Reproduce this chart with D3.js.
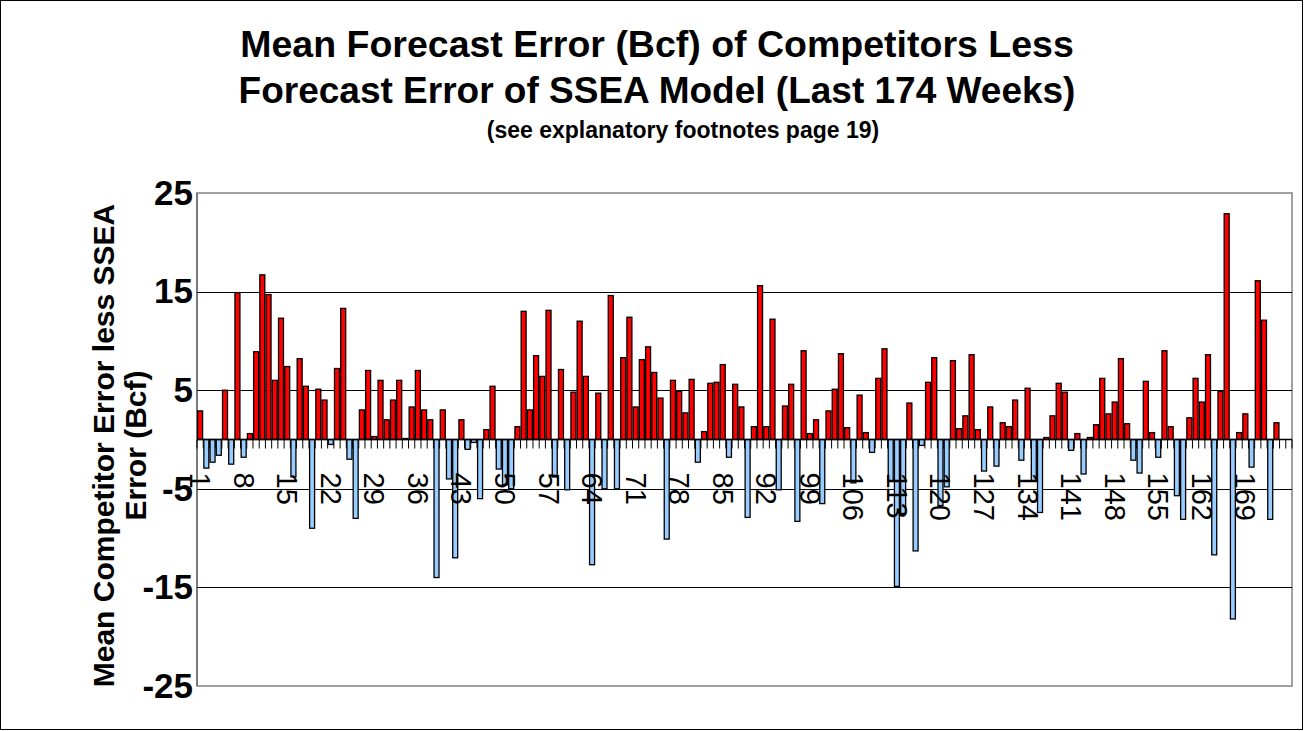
<!DOCTYPE html>
<html>
<head>
<meta charset="utf-8">
<script src="https://cdn.jsdelivr.net/npm/d3@7"></script>
<style>
  body { margin: 0; background: #fff; }
  svg { display: block; font-family: "Liberation Sans", Arial, sans-serif; }
</style>
</head>
<body>
<script>
// weekly difference, Bcf (week 1..174)
const values = [
  2.9, -2.9, -2.3, -1.6, 5.0, -2.5, 14.9, -1.8, 0.6, 8.9,
  16.7, 14.7, 6.0, 12.3, 7.4, -3.8, 8.2, 5.4, -9.0, 5.1,
  4.0, -0.5, 7.2, 13.3, -2.0, -8.0, 3.0, 7.0, 0.3, 6.0,
  2.0, 4.0, 6.0, 0.1, 3.3, 7.0, 3.0, 2.0, -14.0, 3.0,
  -4.0, -12.0, 2.0, -1.0, -0.3, -6.0, 1.0, 5.4, -3.0, -4.6,
  -5.0, 1.3, 13.0, 3.0, 8.5, 6.4, 13.1, -3.8, 7.1, -5.1,
  4.8, 12.0, 6.4, -12.7, 4.7, -5.0, 14.6, -5.0, 8.3, 12.4,
  3.3, 8.1, 9.4, 6.8, 4.2, -10.1, 6.0, 4.9, 2.7, 6.1,
  -2.3, 0.8, 5.7, 5.8, 7.6, -1.8, 5.6, 3.3, -7.9, 1.3,
  15.6, 1.3, 12.2, -5.1, 3.4, 5.6, -8.3, 9.0, 0.6, 2.0,
  -6.5, 2.9, 5.1, 8.7, 1.2, -4.4, 4.5, 0.7, -1.3, 6.2,
  9.2, -4.2, -14.9, -7.5, 3.7, -11.3, -0.6, 5.8, 8.3, -6.7,
  -4.8, 8.0, 1.1, 2.4, 8.6, 1.0, -3.2, 3.3, -2.7, 1.7,
  1.3, 4.0, -2.1, 5.2, -4.2, -7.4, 0.2, 2.4, 5.7, 4.8,
  -1.1, 0.6, -3.5, 0.2, 1.5, 6.2, 2.6, 3.8, 8.2, 1.6,
  -2.1, -3.4, 5.9, 0.7, -1.8, 9.0, 1.3, -5.7, -8.1, 2.2,
  6.2, 3.8, 8.6, -11.7, 4.9, 22.9, -18.2, 0.7, 2.6, -2.8,
  16.1, 12.1, -8.1, 1.7
];

// category slots on the axis (two empty ones after week 174)
const weeks = d3.range(1, 177);

const xLabels = ["1", "8", "15", "22", "29", "36", "43", "50", "57", "64", "71", "78",
  "85", "92", "99", "106", "113", "120", "127", "134", "141", "148", "155", "162", "169"];

const yTicks = [25, 15, 5, -5, -15, -25];
const gridLines = [15, 5, -5, -15];

const w = 1304;
const h = 731;
const pLeft = 197;
const pRight = 1292;
const pTop = 193;
const pBottom = 686;

const svg = d3
  .select("body")
  .append("svg")
  .attr("width", w)
  .attr("height", h);

svg
  .append("rect")
  .attr("x", 0.5)
  .attr("y", 0.5)
  .attr("width", w - 2)
  .attr("height", h - 2)
  .attr("fill", "#fff")
  .attr("stroke", "#000");

// titles
svg
  .append("text")
  .text("Mean Forecast Error (Bcf) of Competitors Less")
  .attr("x", 657)
  .attr("y", 57)
  .attr("text-anchor", "middle")
  .attr("font-size", 37.5)
  .attr("font-weight", "bold");

svg
  .append("text")
  .text("Forecast Error of SSEA Model (Last 174 Weeks)")
  .attr("x", 657)
  .attr("y", 103)
  .attr("text-anchor", "middle")
  .attr("font-size", 37)
  .attr("font-weight", "bold");

svg
  .append("text")
  .text("(see explanatory footnotes page 19)")
  .attr("x", 683)
  .attr("y", 138)
  .attr("text-anchor", "middle")
  .attr("font-size", 23)
  .attr("font-weight", "bold");

const x = d3.scaleBand().domain(weeks).range([pLeft, pRight]).paddingInner(0.2).paddingOuter(0.1);
const xb = d3.scaleBand().domain(weeks).range([pLeft, pRight]);
const y = d3.scaleLinear().domain([-25, 25]).range([pBottom, pTop]);

// plot frame
svg
  .append("rect")
  .attr("x", pLeft)
  .attr("y", pTop)
  .attr("width", pRight - pLeft)
  .attr("height", pBottom - pTop)
  .attr("fill", "none")
  .attr("stroke", "#808080")
  .attr("stroke-width", 1.5);

svg
  .append("g")
  .selectAll("line")
  .data(gridLines)
  .enter()
  .append("line")
  .attr("x1", pLeft)
  .attr("x2", pRight)
  .attr("y1", (d) => Math.round(y(d)) + 0.5)
  .attr("y2", (d) => Math.round(y(d)) + 0.5)
  .attr("stroke", "#000");

svg
  .append("line")
  .attr("x1", pLeft)
  .attr("x2", pLeft)
  .attr("y1", pTop)
  .attr("y2", pBottom)
  .attr("stroke", "#555");

// y axis labels (plain hyphen minus like the original)
const yAxis = d3.axisLeft(y).tickValues(yTicks).tickSize(0).tickPadding(3).tickFormat((d) => `${d}`);
const gy = svg
  .append("g")
  .attr("transform", `translate(${pLeft - 1},0)`)
  .call(yAxis);
gy.select(".domain").remove();
gy.selectAll("text")
  .attr("font-size", 35)
  .attr("font-weight", "bold")
  .attr("font-family", "Liberation Sans, Arial, sans-serif")
  .attr("fill", "#000");

svg
  .append("text")
  .attr("transform", `translate(114,${(pTop + pBottom) / 2 + 6}) rotate(-90)`)
  .attr("text-anchor", "middle")
  .attr("font-size", 30)
  .attr("font-weight", "bold")
  .selectAll("tspan")
  .data(["Mean Competitor Error less SSEA", "Error (Bcf)"])
  .enter()
  .append("tspan")
  .attr("x", 0)
  .attr("dy", (d, i) => (i === 0 ? 0 : 32))
  .text((d) => d);

// category ticks at slot boundaries
const bounds = weeks.map((d) => xb(d)).concat([pRight]);
svg
  .append("g")
  .selectAll("line")
  .data(bounds)
  .enter()
  .append("line")
  .attr("x1", (d) => d)
  .attr("x2", (d) => d)
  .attr("y1", y(0))
  .attr("y2", y(0) + 9)
  .attr("stroke", "#000");

// bars
svg
  .append("g")
  .selectAll("rect")
  .data(values)
  .enter()
  .append("rect")
  .attr("x", (d, i) => x(weeks[i]))
  .attr("width", x.bandwidth())
  .attr("y", (d) => y(Math.max(0, d)))
  .attr("height", (d) => Math.abs(y(d) - y(0)))
  .attr("fill", (d) => (d >= 0 ? "#ff0000" : "#99ccff"))
  .attr("stroke", "#000")
  .attr("stroke-width", 1.3);

svg
  .append("line")
  .attr("x1", pLeft)
  .attr("x2", pRight)
  .attr("y1", y(0))
  .attr("y2", y(0))
  .attr("stroke", "#000")
  .attr("stroke-width", 1.3);

// rotated week labels
svg
  .append("g")
  .selectAll("text")
  .data(xLabels)
  .enter()
  .append("text")
  .text((d) => d)
  .attr("transform", (d) => `translate(${xb(+d) + xb.bandwidth() / 2},${y(0) + 33}) rotate(90)`)
  .attr("dominant-baseline", "central")
  .attr("font-size", 29);
</script>
</body>
</html>
